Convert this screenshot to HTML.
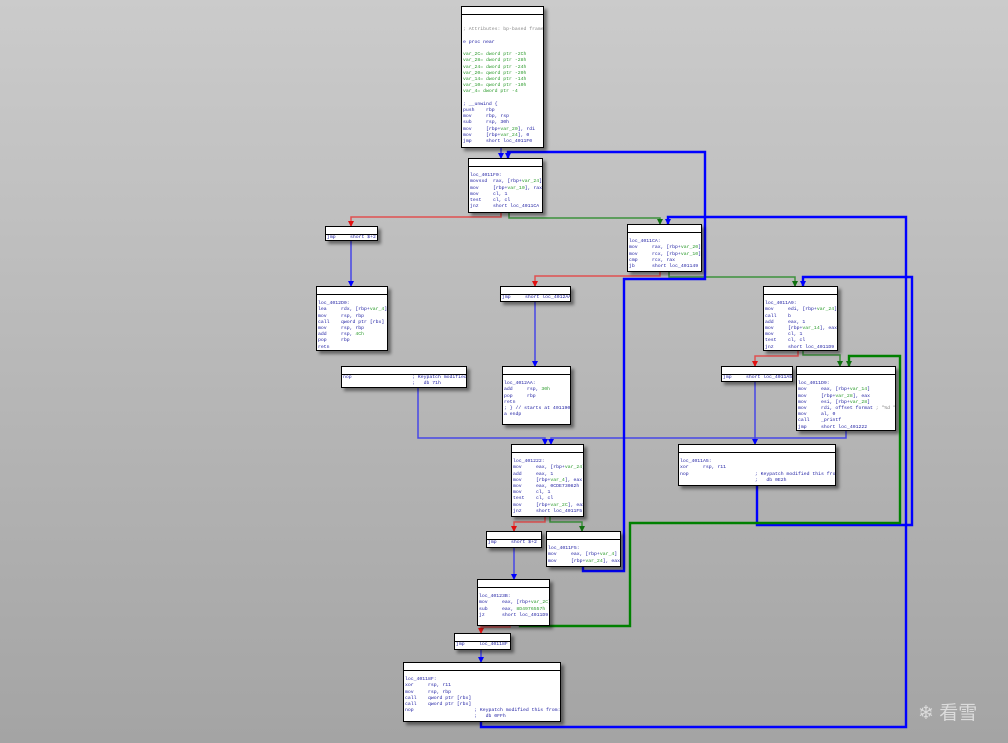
<!DOCTYPE html>
<html><head><meta charset="utf-8"><style>
html,body{margin:0;padding:0}
body{width:1008px;height:743px;position:relative;overflow:hidden;background:linear-gradient(#cbcbcb,#a4a4a4);font-family:"Liberation Mono",monospace}
.b{position:absolute;background:#fff;border:1px solid #000;box-shadow:3px 3px 3px rgba(0,0,0,.45);box-sizing:border-box}
.b .h{height:7px;border-bottom:1px solid #000}
.b pre{margin:0;padding:0 0 0 1px;font-family:"Liberation Mono",monospace;font-size:4.8px;line-height:6.2px;color:#1a1aa0;white-space:pre;overflow:hidden}
.g{color:#2a9a2a}.c{color:#888}
svg{position:absolute;left:0;top:0}
.wm{position:absolute;left:918px;top:698px;color:#dcdcdc;font-family:"Liberation Sans","Noto Sans CJK SC",sans-serif;font-size:19px}
</style></head><body>
<svg width="1008" height="743">
<defs>
<marker id="ab" markerWidth="6" markerHeight="6" refX="3" refY="5" markerUnits="userSpaceOnUse"><path d="M0,0 L6,0 L3,6z" fill="#0000ff"/></marker>
<marker id="ar" markerWidth="6" markerHeight="6" refX="3" refY="5" markerUnits="userSpaceOnUse"><path d="M0,0 L6,0 L3,6z" fill="#e01010"/></marker>
<marker id="ag" markerWidth="6" markerHeight="6" refX="3" refY="5" markerUnits="userSpaceOnUse"><path d="M0,0 L6,0 L3,6z" fill="#107010"/></marker>
</defs>
<g fill="none" stroke-width="1.5">
<g stroke="#4646e6" marker-end="url(#ab)">
<path d="M501,147 V158"/>
<path d="M351,240 V286"/>
<path d="M535,301 V366"/>
<path d="M418,387 V438 H545 V444"/>
<path d="M846,430 V438 H551 V444"/>
<path d="M755,381 V444"/>
<path d="M514,547 V579"/>
<path d="M481,649 V662"/>
</g>
<g stroke="#e05050" marker-end="url(#ar)">
<path d="M501,212 V217 H351 V226"/>
<path d="M660,271 V276 H535 V286"/>
<path d="M798,350 V356 H755 V366"/>
<path d="M545,516 V522 H514 V531"/>
<path d="M510,625 V627 H481 V633"/>
</g>
<g stroke="#3d913d" marker-end="url(#ag)">
<path d="M509,212 V218 H660 V224"/>
<path d="M669,271 V277 H795 V286"/>
<path d="M803,350 V355 H840 V366"/>
<path d="M550,516 V522 H582 V531"/>
</g>
</g>
<g fill="none" stroke-width="2.4">
<g stroke="#0000ff" marker-end="url(#ab)">
<path d="M583,566 V571 H624 V279 H705 V152 H508 V158"/>
<path d="M481,721 V727 H906 V217 H668 V224"/>
<path d="M757,485 V525 H912 V277 H803 V286"/>
</g>
<g stroke="#008000" marker-end="url(#ag)">
<path d="M520,625 V626 H630 V523 H900 V356 H849 V366"/>
</g>
</g>
</svg>

<div class="b" style="left:461px;top:6px;width:83px;height:142px"><div class="h"></div><pre>


<span class="c">; Attributes: bp-based frame</span>

e proc near

<span class="g">var_2C= dword ptr -2Ch
var_28= dword ptr -28h
var_24= dword ptr -24h
var_20= qword ptr -20h
var_14= dword ptr -14h
var_10= qword ptr -10h
var_4= dword ptr -4</span>

; __unwind {
push    rbp
mov     rbp, rsp
sub     rsp, 30h
mov     [rbp+<span class="g">var_20</span>], rdi
mov     [rbp+<span class="g">var_24</span>], 0
jmp     short loc_4011F0</pre></div>

<div class="b" style="left:468px;top:158px;width:75px;height:55px"><div class="h"></div><pre>

loc_4011F0:
movsxd  rax, [rbp+<span class="g">var_24</span>]
mov     [rbp+<span class="g">var_10</span>], rax
mov     cl, 1
test    cl, cl
jnz     short loc_4011CA</pre></div>

<div class="b" style="left:325px;top:226px;width:53px;height:15px"><div class="h"></div><pre>jmp     short $+2</pre></div>

<div class="b" style="left:627px;top:224px;width:75px;height:48px"><div class="h"></div><pre>

loc_4011CA:
mov     rax, [rbp+<span class="g">var_20</span>]
mov     rcx, [rbp+<span class="g">var_10</span>]
cmp     rcx, rax
jb      short loc_401149</pre></div>

<div class="b" style="left:316px;top:286px;width:72px;height:65px"><div class="h"></div><pre>

loc_4012D0:
lea     rdx, [rbp+<span class="g">var_4</span>]
mov     rsp, rbp
call    qword ptr [rbx]
mov     rsp, rbp
add     rsp, <span class="g">4Ch</span>
pop     rbp
retn</pre></div>

<div class="b" style="left:500px;top:286px;width:71px;height:16px"><div class="h"></div><pre>jmp     short loc_4012AA</pre></div>

<div class="b" style="left:763px;top:286px;width:75px;height:65px"><div class="h"></div><pre>

loc_4011A9:
mov     edi, [rbp+<span class="g">var_24</span>]
call    b
add     eax, 1
mov     [rbp+<span class="g">var_14</span>], eax
mov     cl, 1
test    cl, cl
jnz     short loc_4011D9</pre></div>

<div class="b" style="left:341px;top:366px;width:126px;height:22px"><div class="h"></div><pre>nop                     ; Keypatch modified this from:
                        ;   db 71h</pre></div>

<div class="b" style="left:502px;top:366px;width:69px;height:59px"><div class="h"></div><pre>

loc_4012AA:
add     rsp, <span class="g">30h</span>
pop     rbp
retn
; } // starts at 401190
a endp</pre></div>

<div class="b" style="left:721px;top:366px;width:72px;height:16px"><div class="h"></div><pre>jmp     short loc_4011A5</pre></div>

<div class="b" style="left:796px;top:366px;width:100px;height:65px"><div class="h"></div><pre>

loc_4011D9:
mov     eax, [rbp+<span class="g">var_14</span>]
mov     [rbp+<span class="g">var_28</span>], eax
mov     esi, [rbp+<span class="g">var_28</span>]
mov     rdi, offset format <span class="c">; "%d "</span>
mov     al, 0
call    _printf
jmp     short loc_401222</pre></div>

<div class="b" style="left:511px;top:444px;width:73px;height:73px"><div class="h"></div><pre>

loc_401222:
mov     eax, [rbp+<span class="g">var_24</span>]
add     eax, 1
mov     [rbp+<span class="g">var_4</span>], eax
mov     eax, 0CDE73082h
mov     cl, 1
test    cl, cl
mov     [rbp+<span class="g">var_2C</span>], eax
jnz     short loc_4011F5</pre></div>

<div class="b" style="left:678px;top:444px;width:158px;height:42px"><div class="h"></div><pre>

loc_4011A5:
xor     rsp, r11
nop                       ; Keypatch modified this from:
                          ;   db 0E2h</pre></div>

<div class="b" style="left:486px;top:531px;width:56px;height:17px"><div class="h"></div><pre>jmp     short $+2</pre></div>

<div class="b" style="left:546px;top:531px;width:75px;height:36px"><div class="h"></div><pre>

loc_4011F5:
mov     eax, [rbp+<span class="g">var_4</span>]
mov     [rbp+<span class="g">var_24</span>], eax</pre></div>

<div class="b" style="left:477px;top:579px;width:73px;height:47px"><div class="h"></div><pre>

loc_40123B:
mov     eax, [rbp+<span class="g">var_2C</span>]
sub     eax, <span class="g">8D4976557h</span>
jz      short loc_4011D9</pre></div>

<div class="b" style="left:454px;top:633px;width:57px;height:17px"><div class="h"></div><pre>jmp     loc_40118F</pre></div>

<div class="b" style="left:403px;top:662px;width:158px;height:60px"><div class="h"></div><pre>

loc_40118F:
xor     rsp, r11
mov     rsp, rbp
call    qword ptr [rbx]
call    qword ptr [rbx]
nop                     ; Keypatch modified this from:
                        ;   db 0FFh</pre></div>

<div class="wm">❄ 看雪</div>
</body></html>
